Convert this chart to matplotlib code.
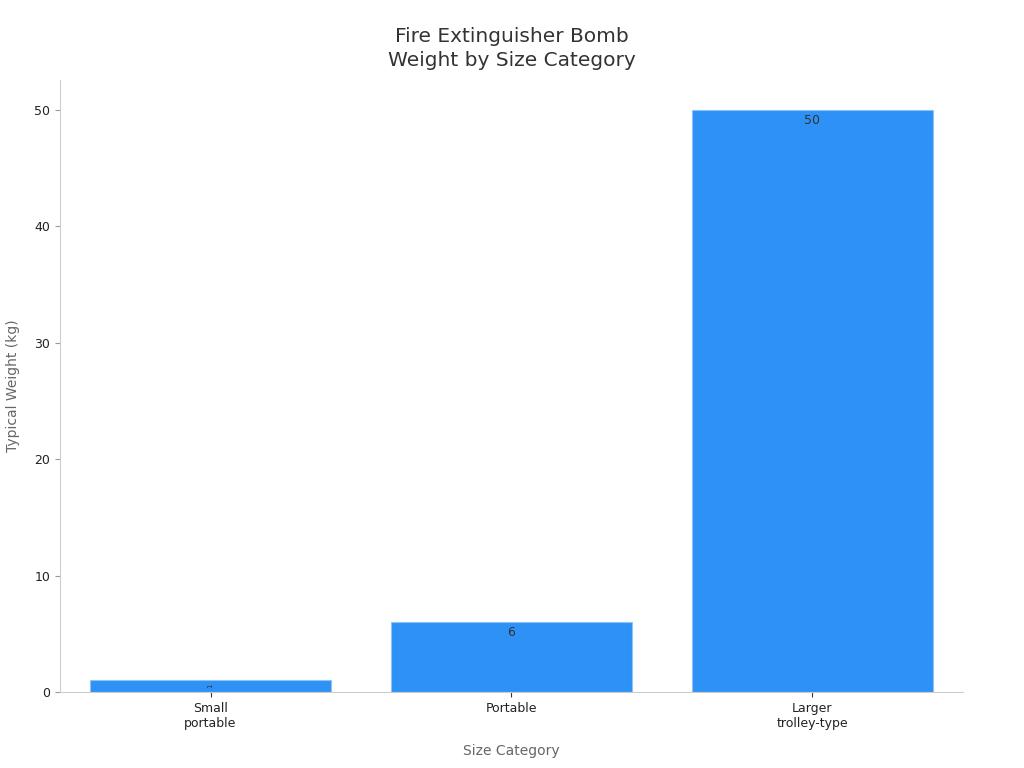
import matplotlib.pyplot as plt

# data
categories = ["Small\nportable", "Portable", "Larger\ntrolley-type"]
weights = [1, 6, 50]

fig = plt.figure(figsize=(10.24, 7.68), dpi=100)
ax = fig.add_axes([0.0586, 0.099, 0.8818, 0.797])

x = list(range(len(categories)))
bars = ax.bar(x, weights, width=0.8, color="#2E91F5", edgecolor="#8EC3F7", linewidth=0.8)

ax.set_xlim(-0.5, 2.5)
ax.set_ylim(0, 52.6)
ax.set_xticks(x)
ax.set_xticklabels(categories, fontsize=9, color="#222222")
ax.set_yticks([0, 10, 20, 30, 40, 50])
ax.tick_params(axis="y", labelsize=9, labelcolor="#222222", color="#999999")
ax.tick_params(axis="x", color="#333333")

for s in ["top", "right"]:
    ax.spines[s].set_visible(False)
for s in ["left", "bottom"]:
    ax.spines[s].set_color("#cccccc")

# value labels inside the bars
for b, v in zip(bars, weights):
    if v < 3:
        ax.text(b.get_x() + b.get_width() / 2, v / 2, str(v), rotation=90,
                ha="center", va="center", fontsize=5, color="#333333")
    else:
        ax.text(b.get_x() + b.get_width() / 2, v - 0.9, str(v),
                ha="center", va="center", fontsize=9, color="#333333")

ax.set_xlabel("Size Category", fontsize=10, color="#666666", labelpad=10)
ax.set_ylabel("Typical Weight (kg)", fontsize=10, color="#666666", labelpad=10)
ax.set_title("Fire Extinguisher Bomb\nWeight by Size Category", fontsize=14.5,
             color="#333333", pad=10, linespacing=1.3)

fig.savefig("out.png", dpi=100)
